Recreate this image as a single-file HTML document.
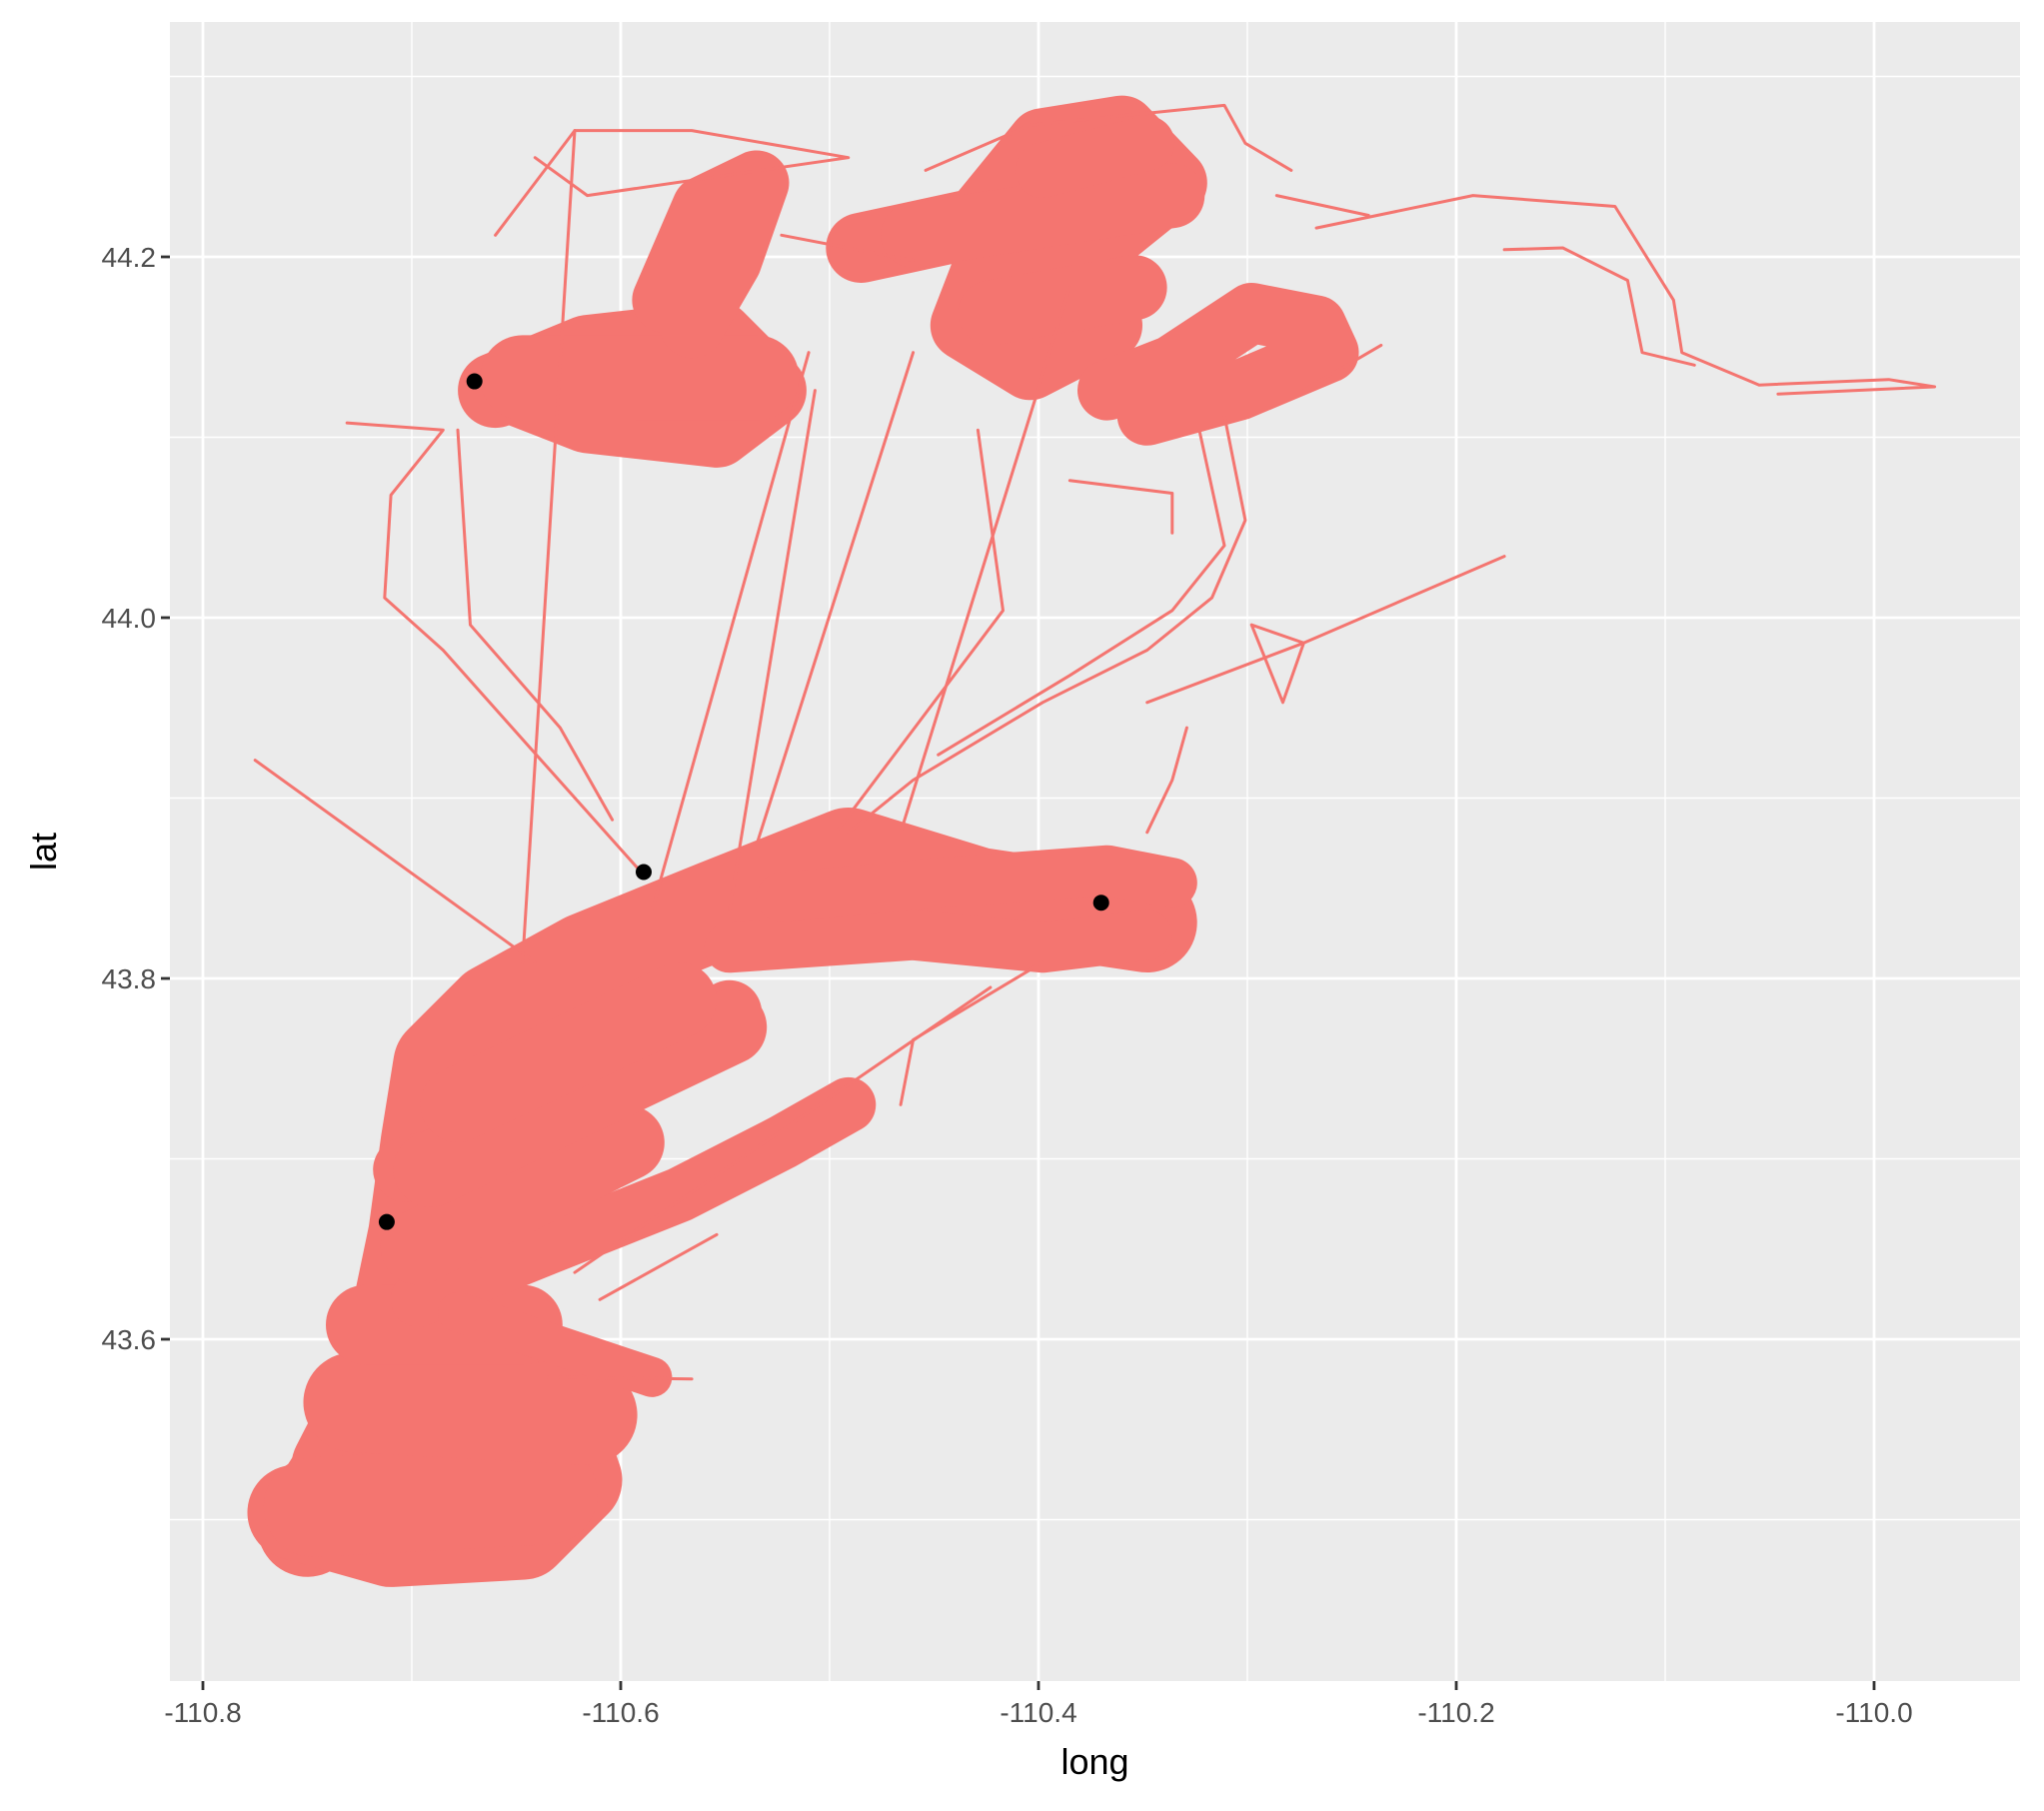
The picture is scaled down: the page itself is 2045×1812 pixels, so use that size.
<!DOCTYPE html>
<html><head><meta charset="utf-8"><style>
html,body{margin:0;padding:0;background:#fff;}
svg{display:block;font-family:"Liberation Sans",sans-serif;}
</style></head><body>
<svg id="chart" width="2045" height="1812" viewBox="0 0 2045 1812"></svg>
<script>
// ---- data (long, lat) ----
const xTicks = [-110.8, -110.6, -110.4, -110.2, -110.0];
const xTickLabels = ["-110.8", "-110.6", "-110.4", "-110.2", "-110.0"];
const yTicks = [43.6, 43.8, 44.0, 44.2];
const yTickLabels = ["43.6", "43.8", "44.0", "44.2"];
const xMinor = [-110.7, -110.5, -110.3, -110.1];
const yMinor = [43.5, 43.7, 43.9, 44.1, 44.3];

const bandSpine = [[-110.750,43.496],[-110.728,43.536],[-110.710,43.586],[-110.697,43.658],[-110.691,43.709],[-110.685,43.752],[-110.660,43.781],[-110.616,43.809],[-110.554,43.838],[-110.491,43.867],[-110.429,43.845],[-110.348,43.831]];
const bandBottom = [[-110.756,43.504],[-110.710,43.489],[-110.647,43.493],[-110.622,43.522],[-110.635,43.565],[-110.685,43.594],[-110.716,43.572],[-110.735,43.529],[-110.691,43.529],[-110.647,43.543]];
const fillBottomA = [[-110.747,43.507],[-110.635,43.514]];
const fillBottomB = [[-110.728,43.565],[-110.616,43.558]];
const fillBottomC = [[-110.722,43.608],[-110.647,43.608]];
const bandFanA = [[-110.697,43.622],[-110.635,43.651],[-110.572,43.680],[-110.523,43.709],[-110.491,43.730]];
const bandFanB = [[-110.703,43.694],[-110.635,43.716],[-110.585,43.752],[-110.548,43.781]];
const bandFanC = [[-110.678,43.615],[-110.585,43.579]];
const fillMidA = [[-110.697,43.651],[-110.597,43.709]];
const fillMidB = [[-110.691,43.694],[-110.548,43.773]];
const fillMidC = [[-110.678,43.730],[-110.572,43.788]];
const bandEastA = [[-110.548,43.817],[-110.460,43.824],[-110.398,43.817],[-110.348,43.824]];
const bandEastB = [[-110.523,43.845],[-110.448,43.853],[-110.367,43.860],[-110.336,43.853]];
const clusterWest = [[-110.660,44.126],[-110.616,44.147],[-110.554,44.155],[-110.529,44.126],[-110.554,44.104],[-110.616,44.112],[-110.647,44.126]];
const fillWest = [[-110.647,44.133],[-110.535,44.133]];
const clusterNorth = [[-110.579,44.176],[-110.560,44.227],[-110.535,44.241],[-110.548,44.198],[-110.566,44.162]];
const clusterCenter = [[-110.485,44.205],[-110.429,44.219],[-110.398,44.263],[-110.360,44.270],[-110.336,44.241],[-110.367,44.212],[-110.423,44.198],[-110.435,44.162],[-110.404,44.140],[-110.367,44.162]];
const fillCenterA = [[-110.460,44.212],[-110.336,44.234]];
const fillCenterB = [[-110.423,44.169],[-110.354,44.183]];
const fillCenterC = [[-110.398,44.248],[-110.348,44.263]];
const clusterEast = [[-110.367,44.126],[-110.336,44.140],[-110.298,44.169],[-110.267,44.162],[-110.261,44.147],[-110.304,44.126],[-110.348,44.112]];

const trackTail = [[-110.267,44.216],[-110.192,44.234],[-110.124,44.228],[-110.096,44.176],[-110.092,44.147],[-110.055,44.129],[-109.993,44.132],[-109.971,44.128],[-110.046,44.124]];
const trackTail2 = [[-110.177,44.204],[-110.149,44.205],[-110.118,44.187],[-110.111,44.147],[-110.086,44.140]];
const trackStray = [[-110.775,43.921],[-110.641,43.809]];
const trackNE = [[-110.177,44.034],[-110.273,43.986],[-110.348,43.953]];
const trackDiag = [[-110.622,43.637],[-110.423,43.795]];
const trackV1 = [[-110.622,44.270],[-110.647,43.809]];
const trackV2 = [[-110.510,44.147],[-110.585,43.838]];
const trackV3 = [[-110.507,44.126],[-110.548,43.838]];
const trackV4 = [[-110.460,44.147],[-110.535,43.874]];
const trackV5 = [[-110.385,44.183],[-110.466,43.881]];
const trackV6 = [[-110.429,44.104],[-110.417,44.004],[-110.497,43.881]];
const trackLeft1 = [[-110.731,44.108],[-110.685,44.104],[-110.710,44.068],[-110.713,44.011],[-110.685,43.982],[-110.635,43.917],[-110.591,43.860]];
const trackLeft2 = [[-110.678,44.104],[-110.672,43.996],[-110.629,43.939],[-110.604,43.888]];
const trackRight1 = [[-110.311,44.112],[-110.301,44.054],[-110.317,44.011],[-110.348,43.982],[-110.398,43.953],[-110.460,43.910],[-110.491,43.881]];
const trackRight2 = [[-110.323,44.104],[-110.311,44.040],[-110.336,44.004],[-110.385,43.968],[-110.448,43.924]];
const trackBlobE = [[-110.298,43.996],[-110.283,43.953],[-110.273,43.986],[-110.298,43.996]];
const trackMidE = [[-110.329,43.939],[-110.336,43.910],[-110.348,43.881]];
const trackLow = [[-110.398,43.809],[-110.460,43.766],[-110.466,43.730]];
const trackTopW = [[-110.660,44.212],[-110.622,44.270],[-110.566,44.270],[-110.491,44.255],[-110.616,44.234],[-110.641,44.255]];
const trackTopE = [[-110.454,44.248],[-110.404,44.273],[-110.311,44.284],[-110.301,44.263],[-110.279,44.248]];
const trackFringe1 = [[-110.610,43.622],[-110.554,43.658]];
const trackFringe2 = [[-110.635,43.579],[-110.566,43.578]];
const trackUpper1 = [[-110.523,44.212],[-110.460,44.198]];
const trackUpper2 = [[-110.286,44.234],[-110.242,44.223]];
const trackUpper3 = [[-110.385,44.076],[-110.336,44.069],[-110.336,44.047]];
const trackUpper4 = [[-110.236,44.151],[-110.273,44.126]];

const pointLon = [-110.670, -110.589, -110.370, -110.712];
const pointLat = [44.131, 43.859, 43.842, 43.665];

// ---- scales ----
const PL=170, PR=2021, PT=22, PB=1682;
function xs(v){ return 203 + (v + 110.8) * 2090; }
function ys(v){ return 618 - (v - 44.0) * 1805; }

const svg = document.getElementById('chart');
const NS = 'http://www.w3.org/2000/svg';
function mk(tag, attrs, parent){ const e=document.createElementNS(NS,tag); for(const k in attrs) e.setAttribute(k,attrs[k]); (parent||svg).appendChild(e); return e; }

const panel = mk('rect',{x:PL,y:PT,width:PR-PL,height:PB-PT,fill:'#EBEBEB'});



xMinor.forEach(v=>{ const l=mk('line',{x1:xs(v),x2:xs(v),y1:PT,y2:PB,stroke:'#fff','stroke-width':1.4});
    });
yMinor.forEach(v=>{ const l=mk('line',{x1:PL,x2:PR,y1:ys(v),y2:ys(v),stroke:'#fff','stroke-width':1.4});
    });
xTicks.forEach((v,i)=>{
  const l=mk('line',{x1:xs(v),x2:xs(v),y1:PT,y2:PB,stroke:'#fff','stroke-width':2.8});
   
  const t=mk('line',{x1:xs(v),x2:xs(v),y1:PB,y2:PB+9,stroke:'#333','stroke-width':2.8});
   
  const tx=mk('text',{x:xs(v),y:PB+41,'text-anchor':'middle','font-size':28,fill:'#4D4D4D'}); tx.textContent=xTickLabels[i];
   
});
yTicks.forEach((v,i)=>{
  const l=mk('line',{x1:PL,x2:PR,y1:ys(v),y2:ys(v),stroke:'#fff','stroke-width':2.8});
   
  const t=mk('line',{x1:PL-9,x2:PL,y1:ys(v),y2:ys(v),stroke:'#333','stroke-width':2.8});
   
  const tx=mk('text',{x:PL-14,y:ys(v)+10,'text-anchor':'end','font-size':28,fill:'#4D4D4D'}); tx.textContent=yTickLabels[i];
   
});

const col = '#F47570';
function track(pts, w, name){
  const d = pts.map((p,i)=>(i?'L':'M')+xs(p[0]).toFixed(1)+' '+ys(p[1]).toFixed(1)).join(' ');
  const p = mk('path',{d:d,fill:'none',stroke:col,'stroke-width':w,'stroke-linejoin':'round','stroke-linecap':'round'});
  
  
}
track(bandSpine, 100, 'dense-track-spine');
track(bandBottom, 95, 'dense-track-bottom');
track(fillBottomA, 100, 'dense-track-bottom');
track(fillBottomB, 100, 'dense-track-bottom');
track(fillBottomC, 80, 'dense-track-bottom');
track(bandFanA, 55, 'dense-track-fan');
track(bandFanB, 65, 'dense-track-fan');
track(bandFanC, 40, 'dense-track-fan');
track(fillMidA, 75, 'dense-track-fan');
track(fillMidB, 75, 'dense-track-fan');
track(fillMidC, 75, 'dense-track-fan');
track(bandEastA, 50, 'dense-track-east');
track(bandEastB, 50, 'dense-track-east');
track(clusterWest, 75, 'dense-cluster-west');
track(fillWest, 85, 'dense-cluster-west');
track(clusterNorth, 65, 'dense-cluster-north');
track(clusterCenter, 70, 'dense-cluster-center');
track(fillCenterA, 65, 'dense-cluster-center');
track(fillCenterB, 65, 'dense-cluster-center');
track(fillCenterC, 55, 'dense-cluster-center');
track(clusterEast, 60, 'dense-cluster-east');
[trackTail,trackTail2,trackStray,trackNE,trackDiag,trackV1,trackV2,trackV3,trackV4,trackV5,trackV6,trackLeft1,trackLeft2,trackRight1,trackRight2,trackBlobE,trackMidE,trackLow,trackTopW,trackTopE,trackFringe1,trackFringe2,trackUpper1,trackUpper2,trackUpper3,trackUpper4]
  .forEach(t=>track(t, 3, 'movement-track'));

pointLon.forEach((v,i)=>{
  const c = mk('circle',{cx:xs(v),cy:ys(pointLat[i]),r:8,fill:'#000'});
  
  
});

const xt = mk('text',{x:(PL+PR)/2,y:1775,'text-anchor':'middle','font-size':36,fill:'#000'}); xt.textContent='long';
 
const yt = mk('text',{x:0,y:0,'text-anchor':'middle','font-size':36,fill:'#000',transform:'translate(56,852) rotate(-90)'}); yt.textContent='lat';
 
</script>
</body></html>
